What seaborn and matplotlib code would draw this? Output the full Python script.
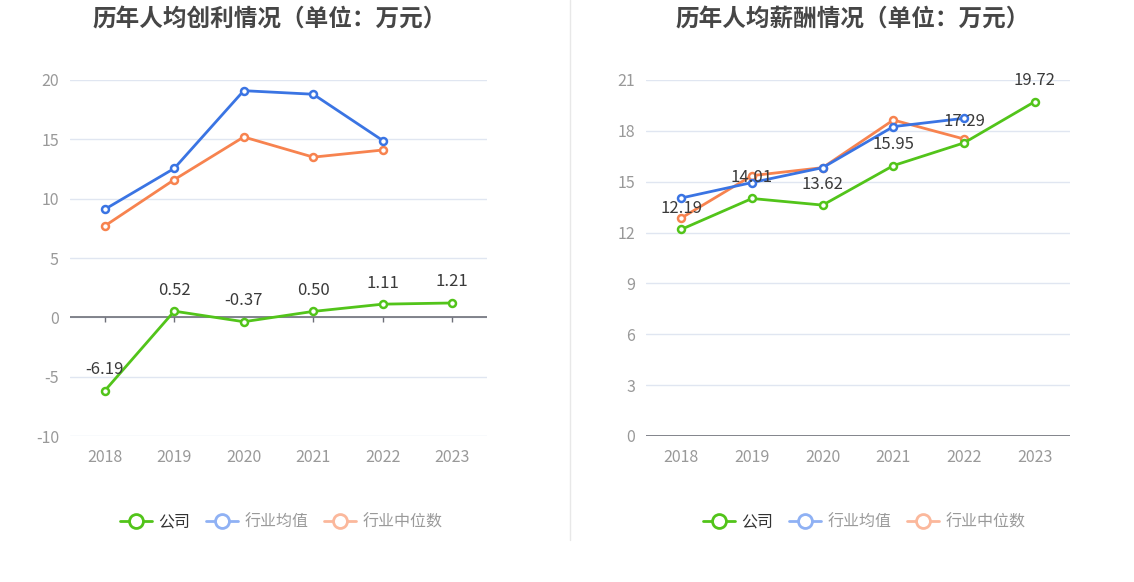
import numpy as np
import pandas as pd
import seaborn as sb
import matplotlib.pyplot as plt
from matplotlib.lines import Line2D

# dati
anni = ['2018', '2019', '2020', '2021', '2022', '2023']
serie = ['公司', '行业均值', '行业中位数']

profitto_azienda = [-6.19, 0.52, -0.37, 0.50, 1.11, 1.21]
profitto_media = [9.1, 12.55, 19.1, 18.8, 14.9, np.nan]
profitto_mediana = [7.7, 11.6, 15.2, 13.5, 14.1, np.nan]

stipendio_azienda = [12.19, 14.01, 13.62, 15.95, 17.29, 19.72]
stipendio_media = [14.04, 14.95, 15.83, 18.25, 18.74, np.nan]
stipendio_mediana = [12.86, 15.36, 15.83, 18.64, 17.52, np.nan]

titoli = ['历年人均创利情况（单位：万元）', '历年人均薪酬情况（单位：万元）']
yticks_sx = [-10, -5, 0, 5, 10, 15, 20]
yticks_dx = [0, 3, 6, 9, 12, 15, 18, 21]

colori = {'公司': '#52c41a', '行业均值': '#3a74e3', '行业中位数': '#f7834f'}
colori_legenda = {'公司': '#52c41a', '行业均值': '#8fb1f4', '行业中位数': '#fbb89c'}
testo_legenda = {'公司': '#333333', '行业均值': '#9a9a9a', '行业中位数': '#9a9a9a'}

sb.set_style('white')
plt.rcParams['font.family'] = ['Noto Sans CJK SC', 'DejaVu Sans']


def creaDF(azienda, media, mediana):
    df = pd.DataFrame({'anno': anni, 'x': range(len(anni)),
                       '公司': azienda, '行业均值': media, '行业中位数': mediana})
    return df.melt(id_vars=['anno', 'x'], value_vars=serie,
                   var_name='serie', value_name='valore')


def disegna(ax, df_long, yticks, titolo, fig_cx):
    # prima le serie di settore, poi l'azienda sopra
    for s in ['行业中位数', '行业均值', '公司']:
        d = df_long[df_long['serie'] == s].dropna()
        sb.lineplot(data=d, x='x', y='valore', ax=ax, color=colori[s],
                    linewidth=2, marker='o', markersize=5,
                    markerfacecolor='white', markeredgecolor=colori[s],
                    markeredgewidth=1.8, zorder=3 if s == '公司' else 2)

    # etichette dei valori aziendali
    d = df_long[df_long['serie'] == '公司']
    for _, r in d.iterrows():
        ax.annotate(f"{r['valore']:.2f}", (r['x'], r['valore']),
                    xytext=(0, 9), textcoords='offset points',
                    ha='center', va='bottom', fontsize=12, color='#3a3a3a',
                    zorder=5)

    ax.set_xlim(-0.5, len(anni) - 0.5)
    ax.set_ylim(yticks[0], yticks[-1])
    ax.set_yticks(yticks)
    ax.set_yticklabels([str(v) for v in yticks])
    ax.set_xticks(range(len(anni)))
    ax.set_xticklabels(anni)
    ax.tick_params(axis='both', length=0, labelsize=11.5, colors='#999999', pad=8)
    ax.tick_params(axis='x', pad=9)
    ax.set_xlabel('')
    ax.set_ylabel('')
    for sp in ax.spines.values():
        sp.set_visible(False)
    ax.grid(axis='y', color='#e0e6f1', linewidth=1)
    ax.grid(axis='x', visible=False)
    ax.set_axisbelow(True)

    # asse dello zero con le tacche
    passo = (yticks[-1] - yticks[0]) / 356 * 5
    ax.axhline(0, color='#6e7079', linewidth=1.2, zorder=1.5)
    ax.vlines(range(len(anni)), -passo, 0, color='#6e7079', linewidth=1, zorder=1.5)

    fig.text(fig_cx, 0.966, titolo, ha='center', va='center', fontsize=17,
             fontweight='bold', color='#464646')

    handles = [Line2D([0], [0], color=colori_legenda[s], linewidth=2, marker='o',
                      markersize=10, markerfacecolor='white',
                      markeredgecolor=colori_legenda[s], markeredgewidth=2)
               for s in serie]
    leg = fig.legend(handles, serie, loc='center', bbox_to_anchor=(fig_cx + 0.01, 0.103),
                     ncol=3, frameon=False, fontsize=11.5, handlelength=2.0,
                     handletextpad=0.4, columnspacing=1.0)
    for t, s in zip(leg.get_texts(), serie):
        t.set_color(testo_legenda[s])


fig = plt.figure(figsize=(11.34, 5.82), dpi=100)
ax1 = fig.add_axes([70 / 1134, 1 - 436 / 582, 417 / 1134, 356 / 582])
ax2 = fig.add_axes([646 / 1134, 1 - 436 / 582, 424 / 1134, 356 / 582])

disegna(ax1, creaDF(profitto_azienda, profitto_media, profitto_mediana),
        yticks_sx, titoli[0], 0.238)
disegna(ax2, creaDF(stipendio_azienda, stipendio_media, stipendio_mediana),
        yticks_dx, titoli[1], 0.752)

# linea di separazione
fig.add_artist(Line2D([570 / 1134, 570 / 1134], [1 - 540 / 582, 1.0],
                      color='#e8e8e8', linewidth=1))

fig.savefig('out.png', dpi=100)
